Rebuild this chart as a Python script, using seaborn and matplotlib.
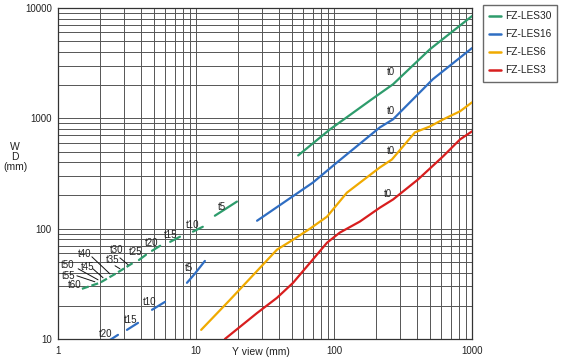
import numpy as np
import pandas as pd
import matplotlib.pyplot as plt
import seaborn as sns
from matplotlib.lines import Line2D
from matplotlib.ticker import LogLocator, NullFormatter

# ===================== DATA =====================
series_names = ["FZ-LES30", "FZ-LES16", "FZ-LES6", "FZ-LES3"]
series_colors = ["#2e9c6c", "#2f6ec3", "#f0aa00", "#d81e1e"]

# FZ-LES30 (green)
les30_t0_x = [55, 93.5, 188, 268, 497, 1000]
les30_t0_y = [461, 794, 1490, 2037, 4240, 8450]
les30_seg_x = [[13.7, 19.8], [9.5, 11.2], [6.5, 7.65], [4.8, 5.5], [3.86, 4.34]]
les30_seg_y = [[131, 176], [94, 104], [76, 84.5], [63, 70], [52, 58]]
les30_dash_x = [1.49, 2.01, 2.68, 3.5]
les30_dash_y = [28.5, 32.3, 39.8, 49]

# FZ-LES16 (blue)
les16_t0_x = [27.7, 70.4, 105, 215, 268, 521, 1000]
les16_t0_y = [118, 262, 398, 828, 980, 2265, 4330]
les16_seg_x = [[8.6, 9.8, 11.6], [4.8, 5.96], [3.16, 3.8], [2.38, 2.72]]
les16_seg_y = [[32.3, 39, 51], [18.4, 21.7], [12.1, 14], [9.8, 10.9]]

# FZ-LES6 (yellow)
les6_x = [10.9, 17.6, 29.1, 38.6, 50.5, 67, 89, 124, 215, 263, 386, 497, 617, 819, 1000]
les6_y = [12.1, 22.6, 44.2, 64.5, 79.4, 100, 128.5, 212, 359, 424, 746, 845, 977, 1158, 1396]

# FZ-LES3 (red)
les3_x = [16.2, 27.7, 38.6, 50.5, 67, 89, 110, 154, 215, 268, 406, 617, 819, 1000]
les3_y = [10, 17.2, 23.6, 32.3, 49, 74.6, 92, 116, 155, 184, 279, 452, 644, 762]

# thickness labels
t0_labels = ["t0", "t0", "t0", "t0"]
t0_label_x = [259, 259, 259, 246]
t0_label_y = [2620, 1158, 501, 208]

green_labels = ["t5", "t10", "t15", "t20", "t25", "t30", "t35", "t40", "t45", "t50", "t55", "t60"]
green_label_x = [15.4, 9.5, 6.5, 4.8, 3.67, 2.68, 2.5, 1.57, 1.65, 1.18, 1.2, 1.33]
green_label_y = [158, 109, 88, 74.6, 61.7, 64.5, 52.2, 59.3, 45.2, 47.1, 37.4, 30.9]

leader_x = [[2.81, 3.22], [2.59, 2.81], [1.76, 2.38], [1.79, 2.12], [1.40, 1.95], [1.37, 1.85]]
leader_y = [[54.4, 47.1], [46.1, 43.3], [55.6, 38.9], [43.3, 35.9], [43.3, 34.4], [37.4, 33.0]]

blue_labels = ["t5", "t10", "t15", "t20"]
blue_label_x = [8.9, 4.64, 3.38, 2.23]
blue_label_y = [44.2, 21.7, 14.9, 11.1]

# ===================== BUILD TABLE =====================
rows = []
def add(series, seg, xs, ys, dashed=False):
    for x, y in zip(xs, ys):
        rows.append({"x": x, "y": y, "series": series, "seg": seg, "dashed": dashed})

add("FZ-LES30", "g0", les30_t0_x, les30_t0_y)
for i, (xs, ys) in enumerate(zip(les30_seg_x, les30_seg_y)):
    add("FZ-LES30", f"g{i+1}", xs, ys)
add("FZ-LES30", "gd", les30_dash_x, les30_dash_y, dashed=True)
add("FZ-LES16", "b0", les16_t0_x, les16_t0_y)
for i, (xs, ys) in enumerate(zip(les16_seg_x, les16_seg_y)):
    add("FZ-LES16", f"b{i+1}", xs, ys)
add("FZ-LES6", "y0", les6_x, les6_y)
add("FZ-LES3", "r0", les3_x, les3_y)
df = pd.DataFrame(rows)

# ===================== PLOT =====================
sns.set_style("white")
plt.rcParams["font.family"] = ["Liberation Sans", "DejaVu Sans"]

fig = plt.figure(figsize=(5.61, 3.64), dpi=100)
ax = fig.add_axes([58 / 561, 25 / 364, 414 / 561, 331 / 364])
ax.set_xscale("log")
ax.set_yscale("log")
ax.set_xlim(1, 1000)
ax.set_ylim(10, 10000)

palette = dict(zip(series_names, series_colors))
solid = df[~df["dashed"]]
sns.lineplot(data=solid, x="x", y="y", hue="series", units="seg", estimator=None,
             sort=False, palette=palette, lw=1.6, legend=False, ax=ax, zorder=3)
dash = df[df["dashed"]]
sns.lineplot(data=dash, x="x", y="y", color=palette["FZ-LES30"], estimator=None,
             sort=False, lw=1.6, ax=ax, zorder=3)
ax.lines[-1].set_linestyle((0, (3.2, 1.3)))

# grid
ax.xaxis.set_minor_locator(LogLocator(base=10, subs=np.arange(2, 10)))
ax.yaxis.set_minor_locator(LogLocator(base=10, subs=np.arange(2, 10)))
ax.xaxis.set_minor_formatter(NullFormatter())
ax.yaxis.set_minor_formatter(NullFormatter())
ax.set_xticks([1, 10, 100, 1000], ["1", "10", "100", "1000"])
ax.set_yticks([10, 100, 1000, 10000], ["10", "100", "1000", "10000"])
ax.grid(True, which="both", color="#555555", lw=0.7)
ax.tick_params(which="minor", length=0)
ax.tick_params(which="major", length=3, width=0.7, color="#555555",
               labelsize=7, labelcolor="#222222", pad=1.5)
ax.tick_params(axis="x", which="major", length=0, pad=5)
for s in ax.spines.values():
    s.set_color("#333333")
    s.set_linewidth(0.9)
ax.set_xlabel("")
ax.set_ylabel("")

# labels
for t, x, y in zip(t0_labels, t0_label_x, t0_label_y):
    ax.text(x, y, t, fontsize=7, ha="center", va="center", color="#222222", zorder=4)
for t, x, y in zip(green_labels, green_label_x, green_label_y):
    ax.text(x, y, t, fontsize=7, ha="center", va="center", color="#222222", zorder=4)
for t, x, y in zip(blue_labels, blue_label_x, blue_label_y):
    ax.text(x, y, t, fontsize=7, ha="center", va="center", color="#222222", zorder=4)
for xs, ys in zip(leader_x, leader_y):
    ax.plot(xs, ys, color="#111111", lw=0.7, zorder=4)

fig.text(261 / 561, 1 - 352 / 364, "Y view (mm)", fontsize=7.5, ha="center",
         va="center", color="#222222")
fig.text(15 / 561, 1 - 157 / 364, "W\nD\n(mm)", fontsize=7.5, ha="center",
         va="center", color="#222222", linespacing=1.0)

handles = [Line2D([0], [0], color=c, lw=1.8) for c in series_colors]
leg = fig.legend(handles, series_names, loc="upper left",
                 bbox_to_anchor=(483 / 561, 1 - 5 / 364), fontsize=7.3,
                 frameon=True, fancybox=False, handlelength=1.15, handletextpad=0.4,
                 labelspacing=0.8, borderpad=0.6, borderaxespad=0)
leg.get_frame().set_edgecolor("#444444")
leg.get_frame().set_linewidth(1.0)
for t in leg.get_texts():
    t.set_color("#222222")

fig.savefig("out.png", dpi=100)
